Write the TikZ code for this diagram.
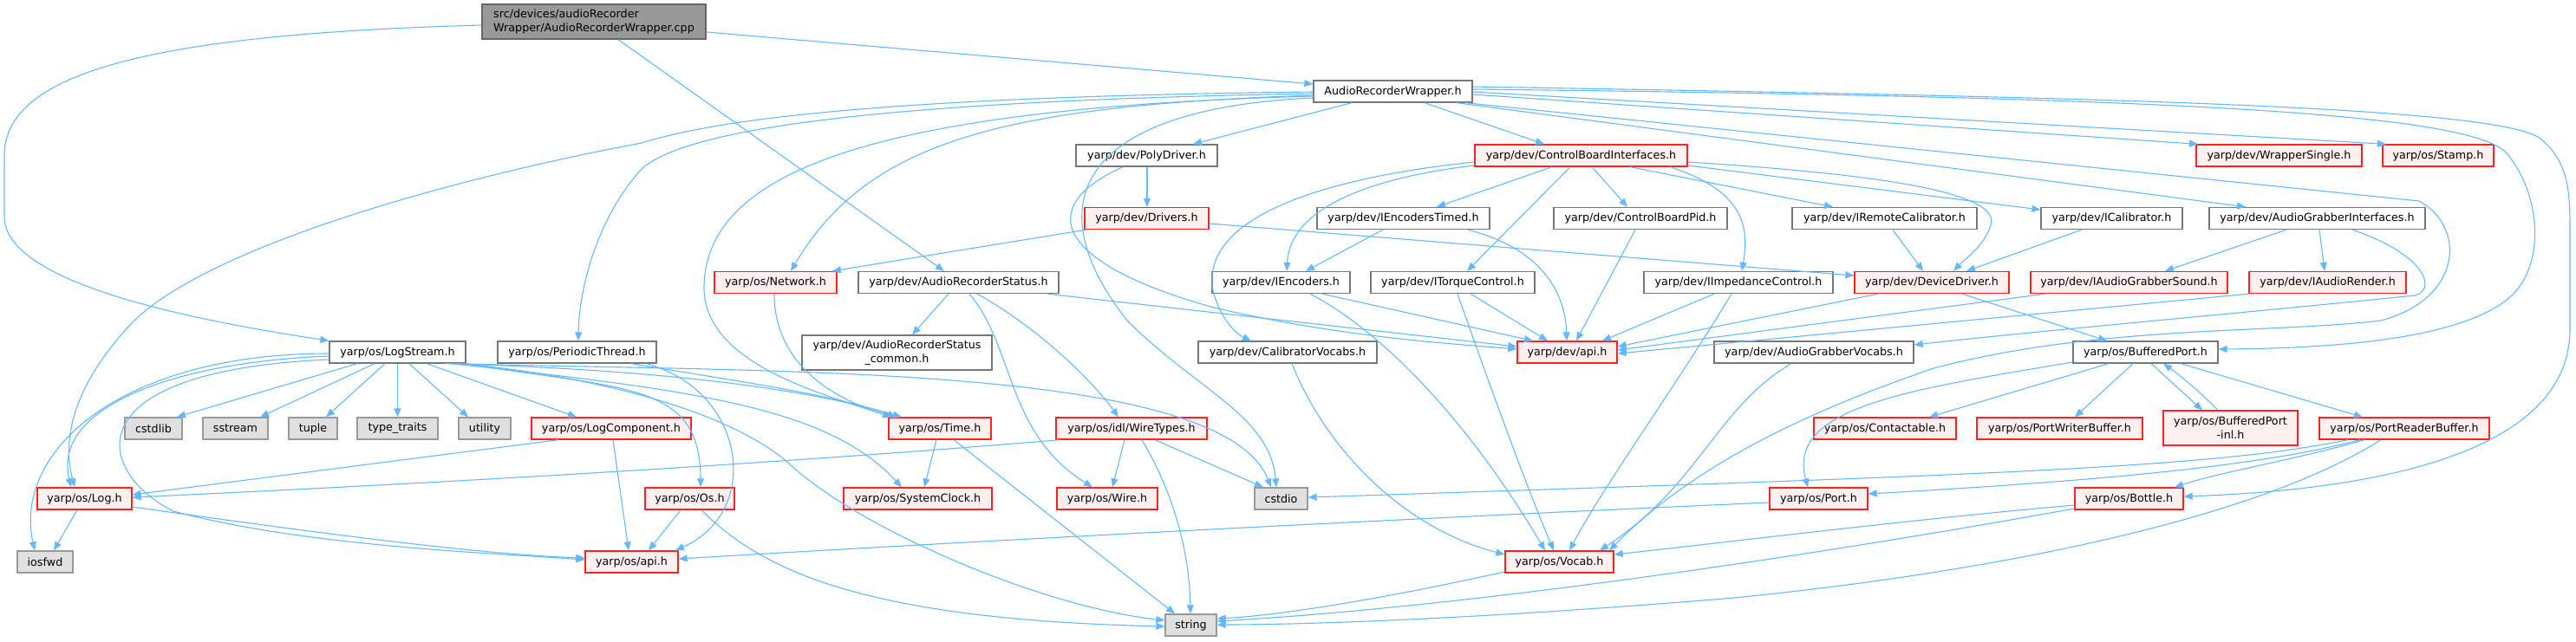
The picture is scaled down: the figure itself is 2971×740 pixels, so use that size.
\documentclass[tikz,border=0pt]{standalone}
\usepackage{fontspec}
\setmainfont{DejaVu Sans}
\usetikzlibrary{arrows.meta}
\definecolor{edgec}{HTML}{63B8FF}
\definecolor{redb}{HTML}{FF2020}
\definecolor{redf}{HTML}{FFF0F0}
\definecolor{plainb}{HTML}{777777}
\definecolor{grayb}{HTML}{999999}
\definecolor{grayf}{HTML}{E0E0E0}
\definecolor{srcf}{HTML}{999999}
\definecolor{srcb}{HTML}{666666}
\newcommand{\nf}{\fontsize{12.7}{16}\selectfont}
\tikzset{
  base/.style={rectangle, inner sep=0pt, minimum height=25pt, font=\nf, text=black, line width=1.3pt},
  plain/.style={base, draw=plainb, fill=white},
  redn/.style={base, draw=redb, fill=redf},
  grayn/.style={base, draw=grayb, fill=grayf},
  srcn/.style={base, draw=srcb, fill=srcf, minimum height=40pt, align=left},
  edge/.style={draw=edgec, line width=1.1pt, -{Triangle[length=10pt,width=8pt]}}
}
\begin{document}
\begin{tikzpicture}[x=1pt,y=-1pt]
\useasboundingbox (0,0) rectangle (2971,740);
% nodes
\node[srcn, minimum width=258pt] (src) at (685,25) {src/devices/audioRecorder\\Wrapper/AudioRecorderWrapper.cpp};
\node[plain, minimum width=183pt] (arw) at (1606.5,105.5) {AudioRecorderWrapper.h};
\node[plain, minimum width=157pt] (logstream) at (458.5,406.5) {yarp/os/LogStream.h};
\node[plain, minimum width=183pt] (periodic) at (665.5,406.5) {yarp/os/PeriodicThread.h};
\node[grayn, minimum width=66pt] (cstdlib) at (177,494.5) {cstdlib};
\node[grayn, minimum width=75pt] (sstream) at (271.5,494.5) {sstream};
\node[grayn, minimum width=56pt] (tuple) at (361,494.5) {tuple};
\node[grayn, minimum width=93pt] (typetraits) at (458.5,494.5) {type\_traits};
\node[grayn, minimum width=60pt] (utility) at (559,494.5) {utility};
\node[redn, minimum width=184pt] (logcomp) at (705,494.5) {yarp/os/LogComponent.h};
\node[redn, minimum width=109pt] (log) at (97.5,575.5) {yarp/os/Log.h};
\node[grayn, minimum width=64pt] (iosfwd) at (52,648.5) {iosfwd};
\node[redn, minimum width=107pt] (osapi) at (728.5,648.5) {yarp/os/api.h};
\node[plain, minimum width=163pt] (poly) at (1322.5,179.5) {yarp/dev/PolyDriver.h};
\node[redn, minimum width=143pt] (drivers) at (1322.5,252) {yarp/dev/Drivers.h};
\node[redn, minimum width=141pt] (network) at (894.5,326) {yarp/os/Network.h};
\node[plain, minimum width=231pt] (ars) at (1105.5,326) {yarp/dev/AudioRecorderStatus.h};
\node[plain, minimum width=199pt] (ienctimed) at (1618.5,252) {yarp/dev/IEncodersTimed.h};
\node[plain, minimum width=200pt] (cbpid) at (1892,252) {yarp/dev/ControlBoardPid.h};
\node[plain, minimum width=213pt] (iremcal) at (2173.5,252) {yarp/dev/IRemoteCalibrator.h};
\node[redn, minimum width=245pt] (cbi) at (1823.5,179.5) {yarp/dev/ControlBoardInterfaces.h};
\node[plain, minimum width=159pt] (ienc) at (1477.5,326) {yarp/dev/IEncoders.h};
\node[plain, minimum width=189pt] (itorque) at (1675.5,326) {yarp/dev/ITorqueControl.h};
\node[plain, minimum width=218pt] (iimped) at (2005,326) {yarp/dev/IImpedanceControl.h};
\node[redn, minimum width=178pt] (devdrv) at (2228,326) {yarp/dev/DeviceDriver.h};
\node[redn, minimum width=191pt] (wrapsingle) at (2628.5,179.5) {yarp/dev/WrapperSingle.h};
\node[redn, minimum width=128pt] (stamp) at (2812,179.5) {yarp/os/Stamp.h};
\node[plain, minimum width=163pt] (ical) at (2435.5,252) {yarp/dev/ICalibrator.h};
\node[plain, minimum width=249pt] (agi) at (2672.5,252) {yarp/dev/AudioGrabberInterfaces.h};
\node[redn, minimum width=227pt] (iagsound) at (2455.5,326) {yarp/dev/IAudioGrabberSound.h};
\node[redn, minimum width=181pt] (iarender) at (2684.5,326) {yarp/dev/IAudioRender.h};
\node[plain, minimum width=219pt, minimum height=40pt, align=center] (arscommon) at (1034.5,407) {yarp/dev/AudioRecorderStatus\\\_common.h};
\node[plain, minimum width=206pt] (calvocabs) at (1485,406.5) {yarp/dev/CalibratorVocabs.h};
\node[redn, minimum width=118pt] (time) at (1084,494.5) {yarp/os/Time.h};
\node[redn, minimum width=174pt] (wiretypes) at (1305,494.5) {yarp/os/idl/WireTypes.h};
\node[redn, minimum width=103pt] (os) at (795.5,575.5) {yarp/os/Os.h};
\node[redn, minimum width=171pt] (sysclock) at (1058.5,575.5) {yarp/os/SystemClock.h};
\node[redn, minimum width=116pt] (wire) at (1277,575.5) {yarp/os/Wire.h};
\node[grayn, minimum width=61pt] (cstdio) at (1477.5,575.5) {cstdio};
\node[grayn, minimum width=59pt] (string) at (1373.5,721.5) {string};
\node[redn, minimum width=115pt] (devapi) at (1807.5,406.5) {yarp/dev/api.h};
\node[plain, minimum width=230pt] (agv) at (2092,406.5) {yarp/dev/AudioGrabberVocabs.h};
\node[redn, minimum width=164pt] (contactable) at (2174,494.5) {yarp/os/Contactable.h};
\node[redn, minimum width=113pt] (port) at (2097.5,575.5) {yarp/os/Port.h};
\node[redn, minimum width=125pt] (vocab) at (1798.5,648.5) {yarp/os/Vocab.h};
\node[plain, minimum width=167pt] (bport) at (2474.5,406.5) {yarp/os/BufferedPort.h};
\node[redn, minimum width=191pt] (pwbuf) at (2375.5,494.5) {yarp/os/PortWriterBuffer.h};
\node[redn, minimum width=155pt, minimum height=40pt, align=center] (bportinl) at (2572.5,494) {yarp/os/BufferedPort\\-inl.h};
\node[redn, minimum width=196pt] (prbuf) at (2773,494.5) {yarp/os/PortReaderBuffer.h};
\node[redn, minimum width=125pt] (bottle) at (2455.5,575.5) {yarp/os/Bottle.h};
% edges from src
\draw[edge] (src.west |- 0,29) .. controls (150,40) and (5,90) .. (5,180) -- (5,250) .. controls (5,330) and (240,372) .. (logstream.north west);
\draw[edge] (713,0 |- src.south) -- (1089,0 |- ars.north);
\draw[edge] (src.east |- 0,37) -- (arw.west |- 0,97);
% edges from AudioRecorderWrapper.h
\draw[edge] (1559,0 |- arw.south) -- (1376,0 |- poly.north);
\draw[edge] (1643,0 |- arw.south) -- (1781,0 |- cbi.north);
\draw[edge] (arw.west |- 0,106) .. controls (1000,112) and (820,140) .. (740,165) .. controls (500,210) and (230,290) .. (150,375) .. controls (90,440) and (70,500) .. (86,0 |- log.north);
\draw[edge] (arw.west |- 0,108) .. controls (1000,117) and (790,150) .. (740,195) .. controls (690,250) and (668,330) .. (667,0 |- periodic.north);
\draw[edge] (arw.west |- 0,110) .. controls (1150,122) and (1000,165) .. (912,0 |- network.north);
\draw[edge] (arw.west |- 0,111) .. controls (1000,125) and (815,200) .. (812,330) .. controls (810,420) and (950,455) .. (1028,0 |- time.north);
\draw[edge] (arw.west |- 0,113) .. controls (1250,125) and (1190,230) .. (1300,370) .. controls (1380,450) and (1465,480) .. (1472,0 |- cstdio.north);
\draw[edge] (arw.east |- 0,100) .. controls (2400,112) and (2880,122) .. (2930,160) .. controls (2960,185) and (2964,215) .. (2964,260) -- (2964,380) .. controls (2964,520) and (2750,565) .. (bottle.east |- 0,573);
\draw[edge] (arw.east |- 0,103) .. controls (2500,112) and (2855,130) .. (2892,178) .. controls (2930,225) and (2935,300) .. (2900,338) .. controls (2850,390) and (2700,402) .. (bport.east |- 0,403);
\draw[edge] (arw.east |- 0,106) -- (2752,0 |- stamp.north);
\draw[edge] (arw.east |- 0,109) -- (2535,0 |- wrapsingle.north);
\draw[edge] (1690,0 |- arw.south) -- (2790,232) .. controls (2845,262) and (2840,345) .. (2746,370) .. controls (2620,385) and (2420,375) .. (2230,425) .. controls (2100,470) and (1960,530) .. (1856,0 |- vocab.north);
\draw[edge] (1680,0 |- arw.south) -- (2590,0 |- agi.north);
% edges from LogStream.h
\draw[edge] (412,0 |- logstream.south) -- (204,0 |- cstdlib.north);
\draw[edge] (432,0 |- logstream.south) -- (300,0 |- sstream.north);
\draw[edge] (444,0 |- logstream.south) -- (376,0 |- tuple.north);
\draw[edge] (458.5,0 |- logstream.south) -- (458.5,0 |- typetraits.north);
\draw[edge] (472,0 |- logstream.south) -- (540,0 |- utility.north);
\draw[edge] (492,0 |- logstream.south) -- (665,0 |- logcomp.north);
\draw[edge] (logstream.west |- 0,411) .. controls (200,418) and (60,470) .. (82,0 |- log.north);
\draw[edge] (logstream.west |- 0,408) .. controls (140,408) and (15,520) .. (40,0 |- iosfwd.north);
\draw[edge] (logstream.west |- 0,415) .. controls (80,428) and (110,545) .. (200,590) .. controls (350,630) and (560,638) .. (osapi.west |- 0,646);
\draw[edge] (514,0 |- logstream.south) .. controls (700,425) and (900,440) .. (1040,0 |- time.north);
\draw[edge] (520,0 |- logstream.south) .. controls (800,450) and (955,470) .. (1040,0 |- sysclock.north);
\draw[edge] (525,0 |- logstream.south) .. controls (900,430) and (1410,420) .. (1466,0 |- cstdio.north);
\draw[edge] (530,0 |- logstream.south) .. controls (650,430) and (830,465) .. (910,535) .. controls (990,610) and (1200,700) .. (string.west |- 0,716);
\draw[edge] (536,0 |- logstream.south) .. controls (720,450) and (808,440) .. (808,0 |- os.north);
% PeriodicThread
\draw[edge] (728,0 |- periodic.south) .. controls (850,440) and (960,455) .. (1034,0 |- time.north);
\draw[edge] (745,0 |- periodic.south) .. controls (860,450) and (880,590) .. (779,0 |- osapi.north);
% LogComponent, Log
\draw[edge] (644,0 |- logcomp.south) -- (log.east |- 0,571);
\draw[edge] (707,0 |- logcomp.south) -- (725,0 |- osapi.north);
\draw[edge] (89,0 |- log.south) -- (62,0 |- iosfwd.north);
\draw[edge] (log.east |- 0,585) .. controls (400,620) and (560,640) .. (osapi.west |- 0,644);
% WireTypes
\draw[edge] (1222,0 |- wiretypes.south) .. controls (900,535) and (500,558) .. (log.east |- 0,574);
\draw[edge] (1297,0 |- wiretypes.south) -- (1283,0 |- wire.north);
\draw[edge] (1317,0 |- wiretypes.south) .. controls (1360,580) and (1372,650) .. (1373,0 |- string.north);
\draw[edge] (1332,0 |- wiretypes.south) -- (1457,0 |- cstdio.north);
% AudioRecorderStatus
\draw[edge] (1094,0 |- ars.south) -- (1052,0 |- arscommon.north);
\draw[edge] (1118,0 |- ars.south) .. controls (1170,400) and (1160,500) .. (1260,0 |- wire.north);
\draw[edge] (1127,0 |- ars.south) .. controls (1200,380) and (1260,440) .. (1290,0 |- wiretypes.north);
\draw[edge] (1208,0 |- ars.south) -- (devapi.west |- 0,400);
% PolyDriver, Drivers, Network
\draw[edge] (1323,0 |- poly.south) -- (1323,0 |- drivers.north);
\draw[edge] (1295,0 |- poly.south) .. controls (1190,240) and (1220,305) .. (1400,355) .. controls (1550,390) and (1680,397) .. (devapi.west |- 0,403);
\draw[edge] (1253,0 |- drivers.south) -- (960,0 |- network.north);
\draw[edge] (drivers.east |- 0,258) -- (devdrv.west |- 0,318);
\draw[edge] (893,0 |- network.south) .. controls (893,420) and (960,460) .. (1030,0 |- time.north);
% ControlBoardInterfaces
\draw[edge] (1790,0 |- cbi.south) -- (1657,0 |- ienctimed.north);
\draw[edge] (1836,0 |- cbi.south) -- (1877,0 |- cbpid.north);
\draw[edge] (1811,0 |- cbi.south) -- (1692,0 |- itorque.north);
\draw[edge] (1880,0 |- cbi.south) -- (2114,0 |- iremcal.north);
\draw[edge] (1926,0 |- cbi.south) .. controls (2010,220) and (2018,260) .. (2009,0 |- iimped.north);
\draw[edge] (cbi.west |- 0,191) .. controls (1580,205) and (1488,240) .. (1484,0 |- ienc.north);
\draw[edge] (cbi.west |- 0,187) .. controls (1500,208) and (1380,260) .. (1400,340) .. controls (1410,370) and (1425,385) .. (1443,0 |- calvocabs.north);
\draw[edge] (cbi.east |- 0,187) .. controls (2150,200) and (2310,220) .. (2296,260) .. controls (2288,285) and (2265,300) .. (2253,0 |- devdrv.north);
\draw[edge] (cbi.east |- 0,191) -- (ical.west |- 0,242);
% second level
\draw[edge] (1595,0 |- ienctimed.south) -- (1506,0 |- ienc.north);
\draw[edge] (1693,0 |- ienctimed.south) .. controls (1770,285) and (1805,330) .. (1807,0 |- devapi.north);
\draw[edge] (1886,0 |- cbpid.south) -- (1818,0 |- devapi.north);
\draw[edge] (2183,0 |- iremcal.south) -- (2218,0 |- devdrv.north);
\draw[edge] (2401,0 |- ical.south) -- (2268,0 |- devdrv.north);
\draw[edge] (1525,0 |- ienc.south) -- (1768,0 |- devapi.north);
\draw[edge] (1511,0 |- ienc.south) .. controls (1590,380) and (1690,480) .. (1782,0 |- vocab.north);
\draw[edge] (1696,0 |- itorque.south) -- (1785,0 |- devapi.north);
\draw[edge] (1681,0 |- itorque.south) .. controls (1720,450) and (1760,560) .. (1792,0 |- vocab.north);
\draw[edge] (1977,0 |- iimped.south) -- (1848,0 |- devapi.north);
\draw[edge] (1997,0 |- iimped.south) .. controls (1930,450) and (1850,560) .. (1810,0 |- vocab.north);
\draw[edge] (2166,0 |- devdrv.south) -- (devapi.east |- 0,400);
\draw[edge] (2263,0 |- devdrv.south) -- (2430,0 |- bport.north);
\draw[edge] (2359,0 |- iagsound.south) -- (devapi.east |- 0,404);
\draw[edge] (2594,0 |- iarender.south) -- (devapi.east |- 0,408);
% AudioGrabberInterfaces
\draw[edge] (2637,0 |- agi.south) -- (2497,0 |- iagsound.north);
\draw[edge] (2675,0 |- agi.south) -- (2681,0 |- iarender.north);
\draw[edge] (2713,0 |- agi.south) .. controls (2800,295) and (2810,335) .. (2785,341) .. controls (2600,360) and (2350,382) .. (agv.east |- 0,398);
\draw[edge] (2066,0 |- agv.south) .. controls (1980,470) and (1960,560) .. (1845,0 |- vocab.north);
\draw[edge] (1490,0 |- calvocabs.south) .. controls (1530,520) and (1620,610) .. (vocab.west |- 0,640);
% BufferedPort
\draw[edge] (bport.west |- 0,418) .. controls (2200,450) and (2060,470) .. (2085,0 |- port.north);
\draw[edge] (2432,0 |- bport.south) -- (2225,0 |- contactable.north);
\draw[edge] (2460,0 |- bport.south) -- (2393,0 |- pwbuf.north);
\draw[edge] (2481,0 |- bport.south) -- (2540,0 |- bportinl.north);
\draw[edge] (2558,0 |- bportinl.north) .. controls (2535,450) and (2510,430) .. (2495,0 |- bport.south);
\draw[edge] (2515,0 |- bport.south) -- (2725,0 |- prbuf.north);
% PortReaderBuffer
\draw[edge] (2708,0 |- prbuf.south) .. controls (2550,540) and (2300,548) .. (cstdio.east |- 0,574);
\draw[edge] (2722,0 |- prbuf.south) .. controls (2600,540) and (2400,556) .. (port.east |- 0,570);
\draw[edge] (2727,0 |- prbuf.south) .. controls (2650,530) and (2560,545) .. (2508,0 |- bottle.north);
\draw[edge] (2746,0 |- prbuf.south) .. controls (2600,600) and (2300,660) .. (2000,690) .. controls (1700,715) and (1500,721) .. (string.east |- 0,721);
% Bottle, Vocab, Port
\draw[edge] (bottle.west |- 0,583) .. controls (2200,600) and (2000,625) .. (vocab.east |- 0,640);
\draw[edge] (bottle.west |- 0,587) .. controls (2100,640) and (1700,700) .. (string.east |- 0,717);
\draw[edge] (vocab.west |- 0,660) .. controls (1600,690) and (1480,710) .. (string.east |- 0,714);
\draw[edge] (port.west |- 0,580) .. controls (1700,595) and (1200,620) .. (osapi.east |- 0,645);
% Time, Os
\draw[edge] (1080,0 |- time.south) -- (1066,0 |- sysclock.north);
\draw[edge] (1100,0 |- time.south) -- (1355,0 |- string.north);
\draw[edge] (785,0 |- os.south) -- (748,0 |- osapi.north);
\draw[edge] (809,0 |- os.south) .. controls (880,660) and (1000,715) .. (string.west |- 0,723);
\end{tikzpicture}
\end{document}
